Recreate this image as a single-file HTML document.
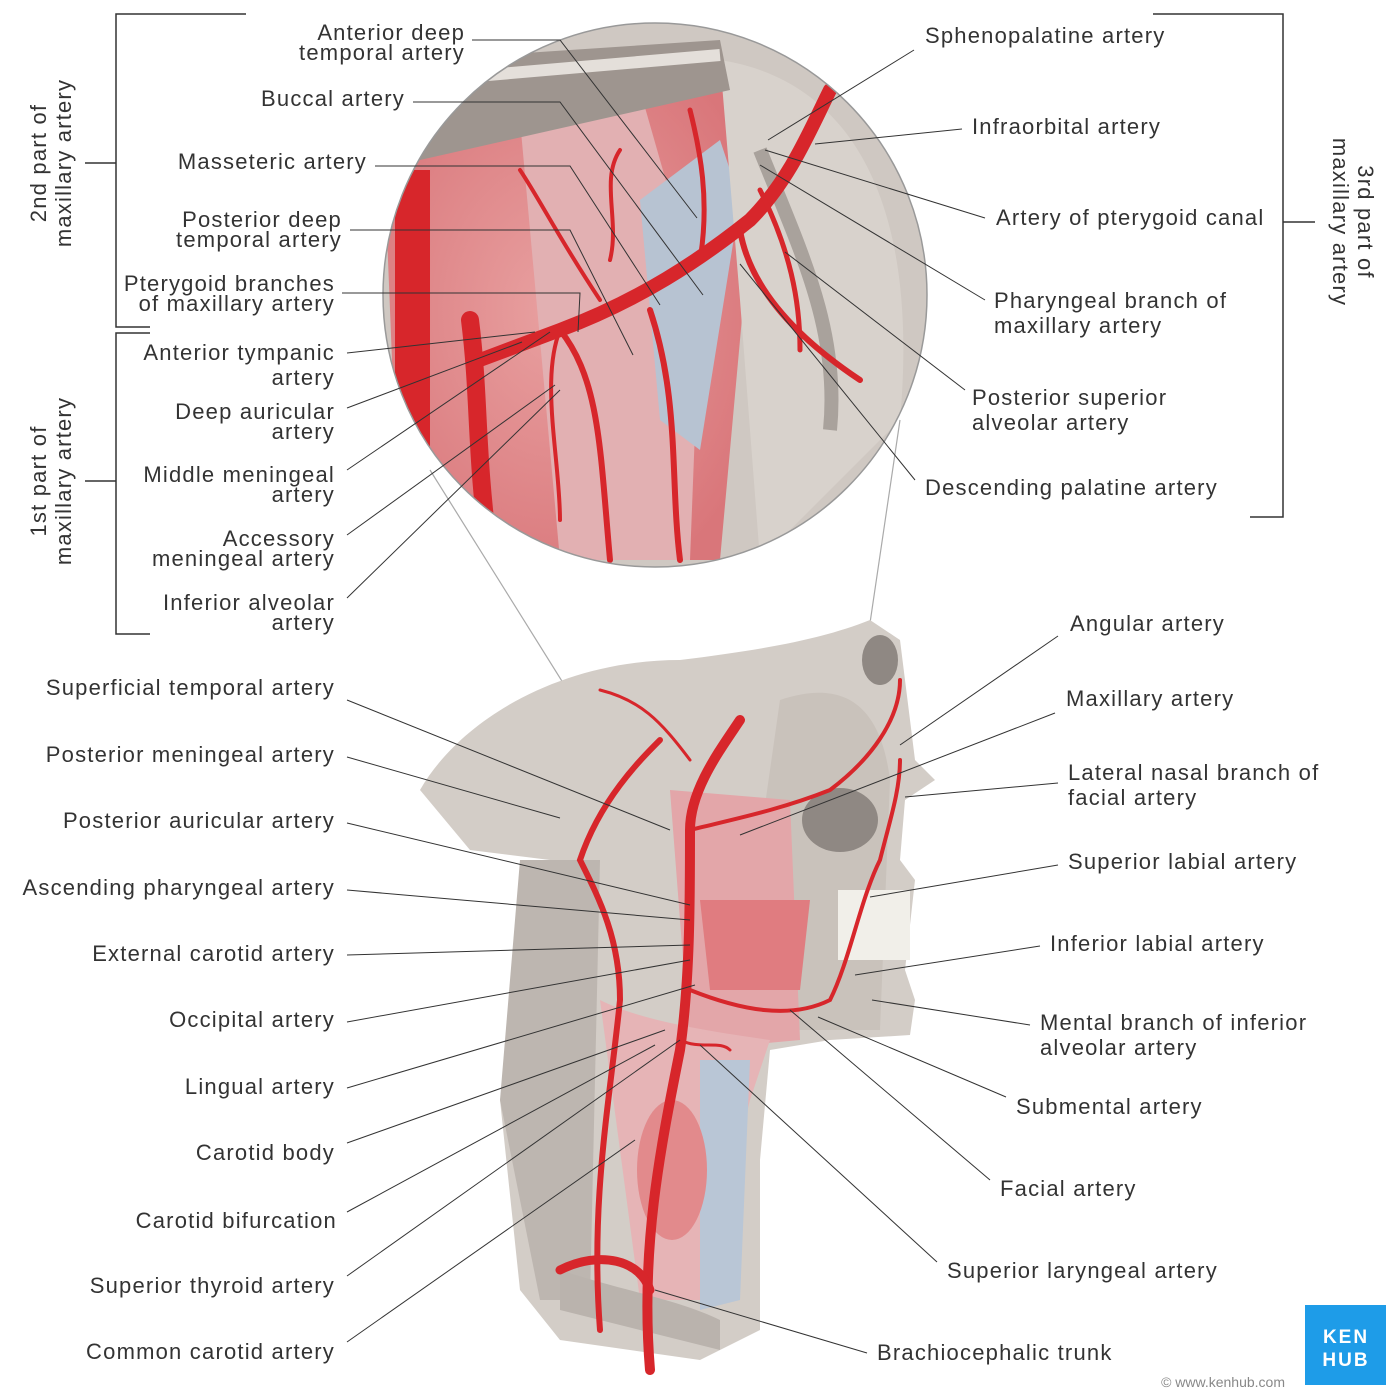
<!DOCTYPE html>
<html><head><meta charset="utf-8"><style>
html,body{margin:0;padding:0;background:#fff;}
svg{display:block;}
text{font-family:"Liberation Sans",sans-serif;font-size:22px;letter-spacing:1.2px;fill:#333;}
</style></head><body>
<svg width="1400" height="1400" viewBox="0 0 1400 1400" xmlns="http://www.w3.org/2000/svg">
<defs>
<clipPath id="c"><circle cx="655" cy="295" r="272"/></clipPath>
<radialGradient id="mg" cx="0.45" cy="0.5" r="0.6"><stop offset="0" stop-color="#e8a0a0"/><stop offset="1" stop-color="#d9767a"/></radialGradient>
</defs>
<line x1="430" y1="470" x2="655" y2="830" stroke="#aaa" stroke-width="1.2"/>
<line x1="900" y1="420" x2="835" y2="860" stroke="#aaa" stroke-width="1.2"/>
<g clip-path="url(#c)">
<rect x="380" y="20" width="560" height="560" fill="#cfc8c2"/>
<path d="M384 160 L700 60 L760 120 L720 560 L400 560 Z" fill="url(#mg)"/>
<path d="M520 120 L640 90 L700 300 L690 560 L560 560 Z" fill="#e2b0b2"/>
<path d="M640 200 L720 140 L740 200 L700 450 L660 420 Z" fill="#b7c3d2"/>
<path d="M720 60 C850 80 920 200 900 420 L760 560 L740 300 Z" fill="#d8d2cc"/>
<path d="M760 150 C800 250 840 330 830 430" stroke="#a9a29c" stroke-width="14" fill="none"/>
<path d="M420 60 L720 40 L730 90 L420 160 Z" fill="#9e958f"/>
<path d="M430 80 L720 55" stroke="#e4dfda" stroke-width="12" fill="none"/>
<rect x="395" y="170" width="35" height="400" fill="#d7262b"/>
<g stroke="#d7262b" fill="none" stroke-linecap="round">
<path d="M470 320 C480 400 475 450 490 560" stroke-width="18"/>
<path d="M480 360 L560 330 C640 300 700 260 750 220 C790 180 810 130 830 90" stroke-width="14"/>
<path d="M560 330 C600 380 600 450 610 560" stroke-width="6"/>
<path d="M650 310 C680 400 670 480 680 560" stroke-width="6"/>
<path d="M700 260 C710 200 700 150 690 110" stroke-width="5"/>
<path d="M740 230 C750 290 800 340 860 380" stroke-width="6"/>
<path d="M760 190 C790 250 800 300 800 350" stroke-width="5"/>
<path d="M600 300 C560 240 540 200 520 170" stroke-width="4"/>
<path d="M560 330 C540 380 560 460 560 520" stroke-width="4"/>
<path d="M610 260 C620 220 600 180 620 150" stroke-width="4"/>
</g>
</g>
<circle cx="655" cy="295" r="272" fill="none" stroke="#999" stroke-width="1.5"/>
<path d="M420 790 C460 720 560 660 680 660 C760 650 820 640 870 620 L900 640 L915 760 L935 780 L905 800 L900 860 L915 880 L905 970 L915 1000 L910 1035 L830 1040 L770 1050 L760 1160 L760 1330 L700 1360 L560 1340 L520 1290 L500 1100 L550 860 L470 850 Z" fill="#d3cdc7"/>
<path d="M780 700 C840 680 880 700 890 780 L880 1030 L780 1030 L760 840 Z" fill="#c9c2bb"/>
<ellipse cx="840" cy="820" rx="38" ry="32" fill="#8f8883"/>
<ellipse cx="880" cy="660" rx="18" ry="25" fill="#8f8883"/>
<path d="M670 790 L790 800 L800 1040 L690 1050 Z" fill="#e3a6a9"/>
<path d="M700 900 L810 900 L800 990 L710 990 Z" fill="#e07c80"/>
<path d="M838 890 L910 890 L910 960 L838 960 Z" fill="#f1efe9"/>
<path d="M600 1000 C640 1020 700 1030 770 1040 L750 1100 L700 1300 L640 1300 Z" fill="#e6b4b6"/>
<path d="M700 1060 L750 1060 L740 1300 L700 1310 Z" fill="#b9c6d6"/>
<ellipse cx="672" cy="1170" rx="35" ry="70" fill="#e28a8c"/>
<path d="M520 860 L600 860 L590 1300 L540 1300 L500 1100 Z" fill="#bdb6b0"/>
<path d="M560 1270 C620 1290 680 1300 720 1320 L720 1350 L560 1310 Z" fill="#bab3ad"/>
<g stroke="#d7262b" fill="none" stroke-linecap="round">
<path d="M650 1370 C640 1250 660 1150 680 1050 C690 980 690 900 690 830 C690 790 720 750 740 720" stroke-width="10"/>
<path d="M600 1330 C590 1200 610 1100 620 1000 C620 940 600 900 580 860 C600 800 640 760 660 740" stroke-width="6"/>
<path d="M690 830 C730 820 780 810 830 790 C870 760 900 720 900 680" stroke-width="4"/>
<path d="M690 990 C740 1010 790 1020 830 1000 C850 960 860 900 880 860 C890 820 900 790 900 760" stroke-width="4"/>
<path d="M560 1270 C600 1250 640 1260 650 1290" stroke-width="9"/>
<path d="M680 1040 C700 1050 720 1040 730 1050" stroke-width="3"/>
<path d="M690 760 C660 720 640 700 600 690" stroke-width="3"/>
</g>
<g stroke="#333" stroke-width="1.5" fill="none">
<polyline points="246,14 116,14 116,327 150,327"/>
<line x1="85" y1="163" x2="116" y2="163"/>
<polyline points="150,333 116,333 116,634 150,634"/>
<line x1="85" y1="481" x2="116" y2="481"/>
<polyline points="1153,14 1283,14 1283,517 1250,517"/>
<line x1="1283" y1="222" x2="1315" y2="222"/>
</g>
<text transform="translate(46,163) rotate(-90)" text-anchor="middle">2nd part of</text>
<text transform="translate(71,163) rotate(-90)" text-anchor="middle">maxillary artery</text>
<text transform="translate(46,481) rotate(-90)" text-anchor="middle">1st part of</text>
<text transform="translate(71,481) rotate(-90)" text-anchor="middle">maxillary artery</text>
<text transform="translate(1358,222) rotate(90)" text-anchor="middle">3rd part of</text>
<text transform="translate(1333,222) rotate(90)" text-anchor="middle">maxillary artery</text>
<g stroke="#333" stroke-width="1" fill="none">
<polyline points="472,40 560,40 697,218"/>
<polyline points="413,102 560,102 703,295"/>
<polyline points="375,166 570,166 660,305"/>
<polyline points="350,230 570,230 633,355"/>
<polyline points="342,293 580,293 578,332"/>
<line x1="347" y1="353" x2="535" y2="332"/>
<line x1="347" y1="408" x2="522" y2="342"/>
<line x1="347" y1="470" x2="550" y2="332"/>
<line x1="347" y1="535" x2="555" y2="385"/>
<line x1="347" y1="598" x2="560" y2="390"/>
<line x1="347" y1="700" x2="670" y2="830"/>
<line x1="347" y1="757" x2="560" y2="818"/>
<line x1="347" y1="823" x2="690" y2="905"/>
<line x1="347" y1="890" x2="690" y2="920"/>
<line x1="347" y1="955" x2="690" y2="945"/>
<line x1="347" y1="1022" x2="690" y2="960"/>
<line x1="347" y1="1088" x2="695" y2="985"/>
<line x1="347" y1="1143" x2="665" y2="1030"/>
<line x1="347" y1="1212" x2="655" y2="1045"/>
<line x1="347" y1="1276" x2="680" y2="1040"/>
<line x1="347" y1="1342" x2="635" y2="1140"/>
<line x1="914" y1="50" x2="768" y2="140"/>
<line x1="962" y1="129" x2="815" y2="144"/>
<line x1="985" y1="218" x2="765" y2="150"/>
<line x1="985" y1="300" x2="760" y2="165"/>
<line x1="965" y1="390" x2="785" y2="252"/>
<line x1="915" y1="480" x2="740" y2="264"/>
<line x1="1058" y1="636" x2="900" y2="745"/>
<line x1="1055" y1="713" x2="740" y2="835"/>
<line x1="1058" y1="783" x2="905" y2="797"/>
<line x1="1058" y1="865" x2="870" y2="897"/>
<line x1="1040" y1="946" x2="855" y2="975"/>
<line x1="1030" y1="1025" x2="872" y2="1000"/>
<line x1="1006" y1="1097" x2="818" y2="1017"/>
<line x1="990" y1="1180" x2="790" y2="1010"/>
<line x1="937" y1="1262" x2="700" y2="1045"/>
<line x1="867" y1="1353" x2="655" y2="1290"/>
</g>
<g text-anchor="end">
<text x="465" y="40">Anterior deep</text><text x="465" y="60">temporal artery</text>
<text x="405" y="106">Buccal artery</text>
<text x="367" y="169">Masseteric artery</text>
<text x="342" y="227">Posterior deep</text><text x="342" y="247">temporal artery</text>
<text x="335" y="291">Pterygoid branches</text><text x="335" y="311">of maxillary artery</text>
<text x="335" y="360">Anterior tympanic</text><text x="335" y="385">artery</text>
<text x="335" y="419">Deep auricular</text><text x="335" y="439">artery</text>
<text x="335" y="482">Middle meningeal</text><text x="335" y="502">artery</text>
<text x="335" y="546">Accessory</text><text x="335" y="566">meningeal artery</text>
<text x="335" y="610">Inferior alveolar</text><text x="335" y="630">artery</text>
<text x="335" y="695">Superficial temporal artery</text>
<text x="335" y="762">Posterior meningeal artery</text>
<text x="335" y="828">Posterior auricular artery</text>
<text x="335" y="895">Ascending pharyngeal artery</text>
<text x="335" y="961">External carotid artery</text>
<text x="335" y="1027">Occipital artery</text>
<text x="335" y="1094">Lingual artery</text>
<text x="335" y="1160">Carotid body</text>
<text x="337" y="1228">Carotid bifurcation</text>
<text x="335" y="1293">Superior thyroid artery</text>
<text x="335" y="1359">Common carotid artery</text>
</g>
<text x="925" y="43">Sphenopalatine artery</text>
<text x="972" y="134">Infraorbital artery</text>
<text x="996" y="225">Artery of pterygoid canal</text>
<text x="994" y="308">Pharyngeal branch of</text><text x="994" y="333">maxillary artery</text>
<text x="972" y="405">Posterior superior</text><text x="972" y="430">alveolar artery</text>
<text x="925" y="495">Descending palatine artery</text>
<text x="1070" y="631">Angular artery</text>
<text x="1066" y="706">Maxillary artery</text>
<text x="1068" y="780">Lateral nasal branch of</text><text x="1068" y="805">facial artery</text>
<text x="1068" y="869">Superior labial artery</text>
<text x="1050" y="951">Inferior labial artery</text>
<text x="1040" y="1030">Mental branch of inferior</text><text x="1040" y="1055">alveolar artery</text>
<text x="1016" y="1114">Submental artery</text>
<text x="1000" y="1196">Facial artery</text>
<text x="947" y="1278">Superior laryngeal artery</text>
<text x="877" y="1360">Brachiocephalic trunk</text>
<rect x="1305" y="1305" width="81" height="80" fill="#1e9ce8"/>
<text x="1346" y="1343" text-anchor="middle" style="fill:#fff;font-weight:bold;font-size:19px;letter-spacing:2px">KEN</text>
<text x="1346" y="1366" text-anchor="middle" style="fill:#fff;font-weight:bold;font-size:19px;letter-spacing:2px">HUB</text>
<text x="1285" y="1387" text-anchor="end" style="fill:#888;font-size:14px;letter-spacing:0">© www.kenhub.com</text>
</svg>
</body></html>
